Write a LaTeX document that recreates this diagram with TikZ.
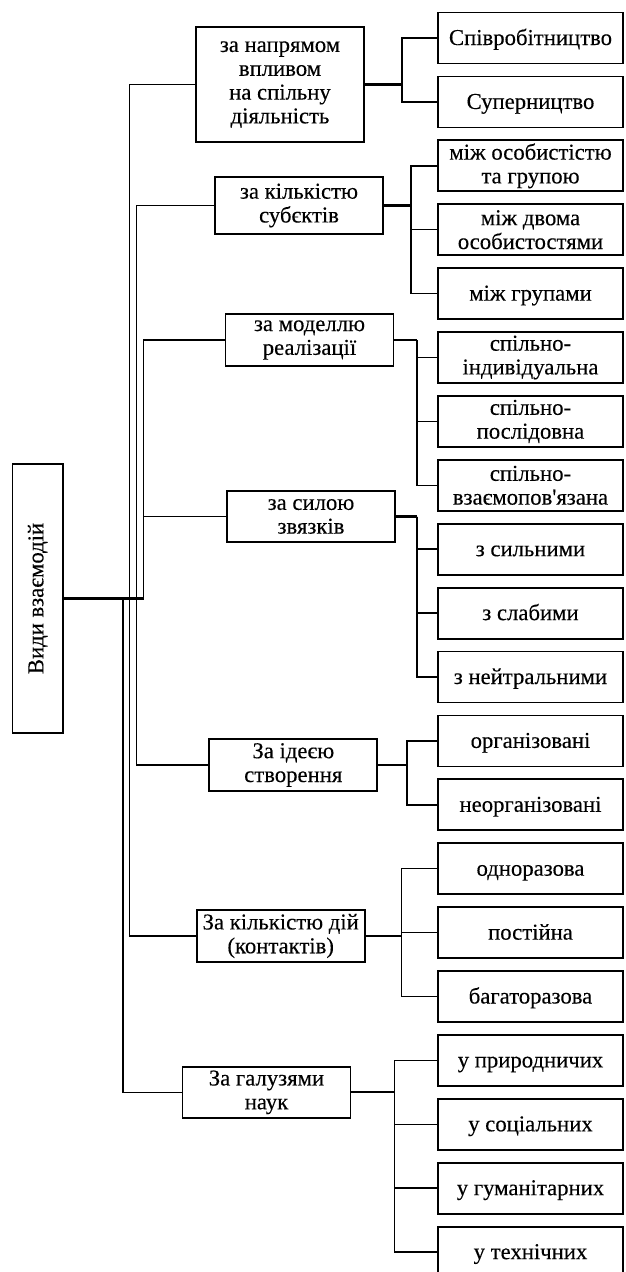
\documentclass[tikz,border=0pt]{standalone}
\usepackage{fontspec}
\setmainfont[Ligatures=TeXOff, FakeBold=0.25]{Liberation Serif}
\newcommand\diagfont{\fontsize{22.7}{23.8}\selectfont}
\begin{document}
\begin{tikzpicture}[x=1pt,y=-1pt,
  box/.style={draw, line width=1.8pt, align=center, inner sep=0pt, minimum width=168pt, font=\diagfont},
  leaf/.style={box, minimum width=185pt, minimum height=51pt},
  one/.style={text height=19pt, text depth=5pt},
  conn/.style={line width=1.5pt},
  stub/.style={line width=2.2pt}]
\useasboundingbox (0,0) rectangle (625,1272);
\fill[white] (0,0) rectangle (625,1272);
% root
\node[box, minimum width=50.5pt, minimum height=269pt] (root) at (37.75,598.5) {\rotatebox{90}{Види взаємодій}};
% categories
\node[box, minimum height=115pt] (A) at (280,84.5) {за напрямом\\впливом\\на спільну\\діяльність};
\node[box, minimum height=57pt] (B) at (299,205.5) {за кількістю\\субєктів};
\node[box, minimum height=52pt] (C) at (309.5,340) {за моделлю\\реалізації};
\node[box, minimum height=51pt] (D) at (311,516.5) {за силою\\звязків};
\node[box, minimum height=52pt] (E) at (293.3,765) {За ідеєю\\створення};
\node[box, minimum height=52pt] (F) at (280.7,936) {За кількістю дій\\(контактів)};
\node[box, minimum height=51pt] (G) at (266.5,1092.3) {За галузями\\наук};
% leaves
\node[leaf, one] (L0) at (530.5,38) {Співробітництво};
\node[leaf, one] (L1) at (530.5,101.9) {Суперництво};
\node[leaf] (L2) at (530.5,165.8) {між особистістю\\та групою};
\node[leaf] (L3) at (530.5,229.7) {між двома\\особистостями};
\node[leaf, one] (L4) at (530.5,293.6) {між групами};
\node[leaf] (L5) at (530.5,357.5) {спільно-\\індивідуальна};
\node[leaf] (L6) at (530.5,421.4) {спільно-\\послідовна};
\node[leaf] (L7) at (530.5,485.3) {спільно-\\взаємопов'язана};
\node[leaf, one] (L8) at (530.5,549.2) {з сильними};
\node[leaf, one] (L9) at (530.5,613.1) {з слабими};
\node[leaf, one] (L10) at (530.5,677) {з нейтральними};
\node[leaf, one] (L11) at (530.5,740.9) {організовані};
\node[leaf, one] (L12) at (530.5,804.8) {неорганізовані};
\node[leaf, one] (L13) at (530.5,868.7) {одноразова};
\node[leaf, one] (L14) at (530.5,932.6) {постійна};
\node[leaf, one] (L15) at (530.5,996.5) {багаторазова};
\node[leaf, one] (L16) at (530.5,1060.4) {у природничих};
\node[leaf, one] (L17) at (530.5,1124.3) {у соціальних};
\node[leaf, one] (L18) at (530.5,1188.2) {у гуманітарних};
\node[leaf, one] (L19) at (530.5,1252.1) {у технічних};
% spine and fork positions
\coordinate (sG) at (123,0);
\coordinate (sAF) at (129.5,0);
\coordinate (sBE) at (136.5,0);
\coordinate (sCD) at (143.5,0);
\coordinate (fA) at (402,0);
\coordinate (fB) at (411,0);
\coordinate (fC) at (417,0);
\coordinate (fD) at (417,0);
\coordinate (fE) at (407,0);
\coordinate (fF) at (401.6,0);
\coordinate (fG) at (394.4,0);
% root connectors
\draw[conn] (root.east) -- (root.east -| sAF) |- (A.west);
\draw[conn] (root.east) -- (root.east -| sBE) |- (B.west);
\draw[conn] (root.east) -- (root.east -| sCD) |- (C.west);
\draw[conn] (root.east) -- (root.east -| sCD) |- (D.west);
\draw[conn] (root.east) -- (root.east -| sBE) |- (E.west);
\draw[conn] (root.east) -- (root.east -| sAF) |- (F.west);
\draw[conn] (root.east) -- (root.east -| sG) |- (G.west);
\draw[stub] (root.east) -- (root.east -| sCD);
% category to leaves
\foreach \c/\f/\ls in {A/fA/{0,1}, B/fB/{2,3,4}, C/fC/{5,6,7}, D/fD/{8,9,10}, E/fE/{11,12}, F/fF/{13,14,15}, G/fG/{16,17,18,19}}{
  \draw[stub] (\c.east) -- (\c.east -| \f);
  \foreach \l in \ls {
    \draw[conn] (\c.east -| \f) |- (L\l.west);
  }
}
\end{tikzpicture}
\end{document}
